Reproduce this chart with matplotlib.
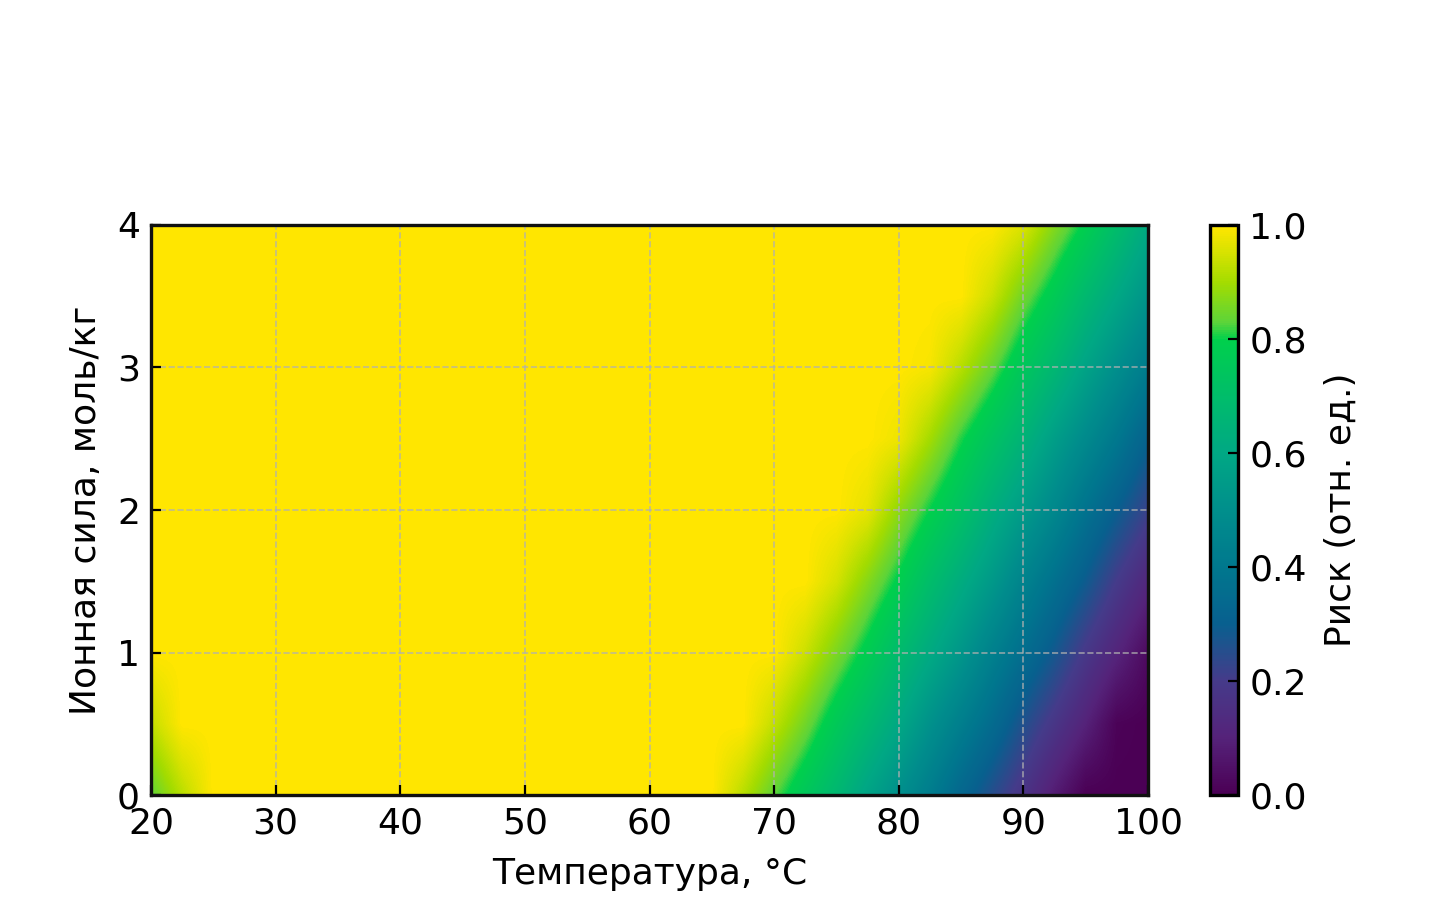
import numpy as np
import matplotlib
matplotlib.use("Agg")
import matplotlib.pyplot as plt
from matplotlib.colors import LinearSegmentedColormap

# grid nodes
temperature = np.linspace(20, 100, 33)      # °C, step 2.5
ionic_strength = np.linspace(0, 4, 9)       # моль/кг, step 0.5

# risk values per ionic-strength row (rows: I = 0, 0.5, ..., 4; columns: T = 20..100)
risk_i00 = [0.83, 0.92] + [1.0] * 17 + [0.92, 0.83, 0.75, 0.67, 0.58, 0.50, 0.42, 0.33, 0.25, 0.17, 0.08, 0.0, 0.0, 0.0]
risk_i05 = [0.93] + [1.0] * 19 + [0.93, 0.85, 0.76, 0.68, 0.60, 0.51, 0.43, 0.35, 0.26, 0.18, 0.10, 0.01, 0.0]
risk_i10 = [1.0] * 21 + [0.94, 0.86, 0.78, 0.69, 0.61, 0.53, 0.44, 0.36, 0.28, 0.19, 0.11, 0.03]
risk_i15 = [1.0] * 22 + [0.95, 0.87, 0.79, 0.70, 0.62, 0.54, 0.45, 0.37, 0.29, 0.20, 0.12]
risk_i20 = [1.0] * 23 + [0.97, 0.88, 0.80, 0.72, 0.63, 0.55, 0.47, 0.38, 0.30, 0.22]
risk_i25 = [1.0] * 24 + [0.98, 0.90, 0.81, 0.73, 0.65, 0.56, 0.48, 0.40, 0.31]
risk_i30 = [1.0] * 25 + [0.99, 0.92, 0.84, 0.75, 0.67, 0.58, 0.50, 0.42]
risk_i35 = [1.0] * 27 + [0.94, 0.85, 0.77, 0.68, 0.60, 0.52]
risk_i40 = [1.0] * 28 + [0.96, 0.87, 0.79, 0.70, 0.61]

risk = np.array([risk_i00, risk_i05, risk_i10, risk_i15, risk_i20,
                 risk_i25, risk_i30, risk_i35, risk_i40])

cmap_stops = [0.0, 0.1, 0.2, 0.3, 0.4, 0.5, 0.6, 0.7, 0.8, 0.83, 0.9, 0.95, 1.0]
cmap_colors = ["#4b0055", "#55237a", "#453b8a", "#08608f", "#00788e", "#008f8c",
               "#00a884", "#00bd6a", "#00d04c", "#5cd43a", "#a3dc00", "#d4e200", "#ffe600"]
cmap = LinearSegmentedColormap.from_list("risk", list(zip(cmap_stops, cmap_colors)))

plt.rcParams["font.family"] = ["DejaVu Sans"]
plt.rcParams["font.size"] = 13

fig = plt.figure(figsize=(7.15, 4.62), dpi=200)
ax = fig.add_axes([0.1056, 0.1396, 0.6972, 0.6169])

dT = (temperature[1] - temperature[0]) / 2
dI = (ionic_strength[1] - ionic_strength[0]) / 2
im = ax.imshow(risk, origin="lower", aspect="auto", cmap=cmap, vmin=0, vmax=1,
               extent=[temperature[0] - dT, temperature[-1] + dT,
                       ionic_strength[0] - dI, ionic_strength[-1] + dI],
               interpolation="bilinear", interpolation_stage="data")
ax.set_xlim(20, 100)
ax.set_ylim(0, 4)
ax.set_xticks([20, 30, 40, 50, 60, 70, 80, 90, 100])
ax.set_yticks([0, 1, 2, 3, 4])
ax.set_xlabel("Температура, °C", labelpad=6)
ax.set_ylabel("Ионная сила, моль/кг", labelpad=5)
ax.tick_params(direction="in", length=3.5, width=0.8, pad=4)
ax.grid(True, linestyle="--", color="#b0b0b0", linewidth=0.6, alpha=0.8)
for sp in ax.spines.values():
    sp.set_linewidth(1.2)
    sp.set_color("#111111")

cax = fig.add_axes([0.8462, 0.1396, 0.0196, 0.6169])
cb = fig.colorbar(im, cax=cax)
cb.set_ticks([0.0, 0.2, 0.4, 0.6, 0.8, 1.0])
cb.ax.tick_params(direction="in", length=3.5, width=0.8, pad=4)
cb.outline.set_linewidth(1.2)
cb.set_label("Риск (отн. ед.)", labelpad=6)

fig.savefig("out.png", dpi=200)
